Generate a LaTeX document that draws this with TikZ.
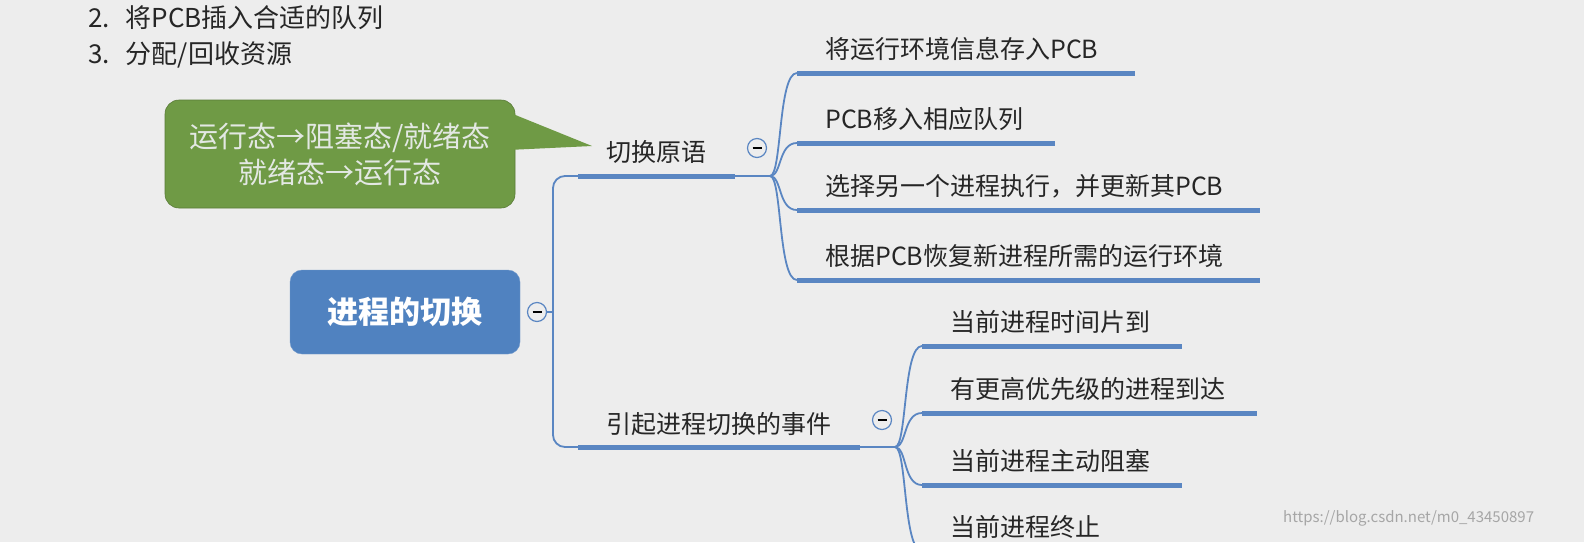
\documentclass[tikz,border=0pt]{standalone}
\usepackage{fontspec}
\setmainfont{Noto Sans CJK SC}
\begin{document}
\begin{tikzpicture}[x=1pt,y=-1pt]
\definecolor{bg}{HTML}{EDEDED}
\definecolor{grn}{HTML}{6F9A45}
\definecolor{blu}{HTML}{5082C0}
\definecolor{uc}{HTML}{5A86C2}
\tikzset{lbl/.style={anchor=west,inner sep=0pt,font=\fontsize{25}{28}\selectfont,text=black!85},
  uline/.style={draw=uc,line width=5pt},link/.style={draw=uc,line width=1.8pt},
  minus/.style={circle,draw=uc,line width=1.2pt,minimum size=19pt,inner sep=0pt,fill=bg}}
\fill[bg] (0,0) rectangle (1584,542);
\useasboundingbox (0,0) rectangle (1584,542);
% top text
\node[lbl,font=\fontsize{26}{30}\selectfont] (t2) at (88,18) {2.\hspace{16pt}将PCB插入合适的队列};
\node[lbl,font=\fontsize{26}{30}\selectfont] (t3) at (88,55) {3.\hspace{16pt}分配/回收资源};
% callout
\fill[grn,draw=grn!80!black,line width=0.6pt,rounded corners=14pt] (165,100) rectangle (515,208);
\fill[grn] (508,112) -- (592,146) -- (508,150) -- cycle;
\node[align=center,text=green!8!gray!20,font=\fontsize{29}{36}\selectfont,inner sep=0pt] (call) at (340,154) {运行态→阻塞态/就绪态\\就绪态→运行态};
% main node
\node[fill=blu,draw=blu!80!white,rounded corners=12pt,minimum width=230pt,minimum height=84pt,text=white,font=\fontsize{31}{36}\selectfont\bfseries] (main) at (405,312) {进程的切换};
\node[minus] (m0) at (537,312) {\rule{9pt}{1.2pt}};
% branch 1
\node[lbl] (b1) at (606,152) {切换原语};
\coordinate (b1s) at (578,176); \coordinate (b1e) at (735,176);
\node[minus] (m1) at (757,148) {\rule{9pt}{1.2pt}};
% branch 2
\node[lbl] (b2) at (606,424) {引起进程切换的事件};
\coordinate (b2s) at (578,447); \coordinate (b2e) at (860,447);
\node[minus] (m2) at (882,420) {\rule{9pt}{1.2pt}};
% trunk
\draw[link] (m0.east) -- (553,312);
\draw[link,rounded corners=12pt] (b1s) -- (553,176) -- (553,447) -- (b2s);
\draw[uline] (b1s) -- (b1e);
\draw[uline] (b2s) -- (b2e);
% children branch 1
\coordinate (p1) at (770,176);
\foreach \n/\y/\xe/\t in {a/73/1135/将运行环境信息存入PCB, b/143/1055/PCB移入相应队列, c/210/1260/选择另一个进程执行，并更新其PCB, d/280/1260/根据PCB恢复新进程所需的运行环境}{
  \node[lbl] (c\n) at (825,\y-24) {\t};
  \coordinate (s\n) at (797,\y); \coordinate (e\n) at (\xe,\y);
  \draw[link] (b1e) -- (p1) .. controls (782,176) and (778,\y) .. (s\n);
  \draw[uline] (s\n) -- (e\n);
}
% children branch 2
\coordinate (p2) at (895,447);
\foreach \n/\y/\xe/\t in {f/346/1182/当前进程时间片到, g/413/1257/有更高优先级的进程到达, h/485/1182/当前进程主动阻塞, i/551/1182/当前进程终止}{
  \node[lbl] (c\n) at (950,\y-24) {\t};
  \coordinate (s\n) at (922,\y); \coordinate (e\n) at (\xe,\y);
  \draw[link] (b2e) -- (p2) .. controls (907,447) and (903,\y) .. (s\n);
  \draw[uline] (s\n) -- (e\n);
}
\node[anchor=west,inner sep=0pt,text=gray!70,font=\fontsize{15}{17}\selectfont] (wm) at (1283,518) {https://blog.csdn.net/m0\_43450897};
\end{tikzpicture}
\end{document}
